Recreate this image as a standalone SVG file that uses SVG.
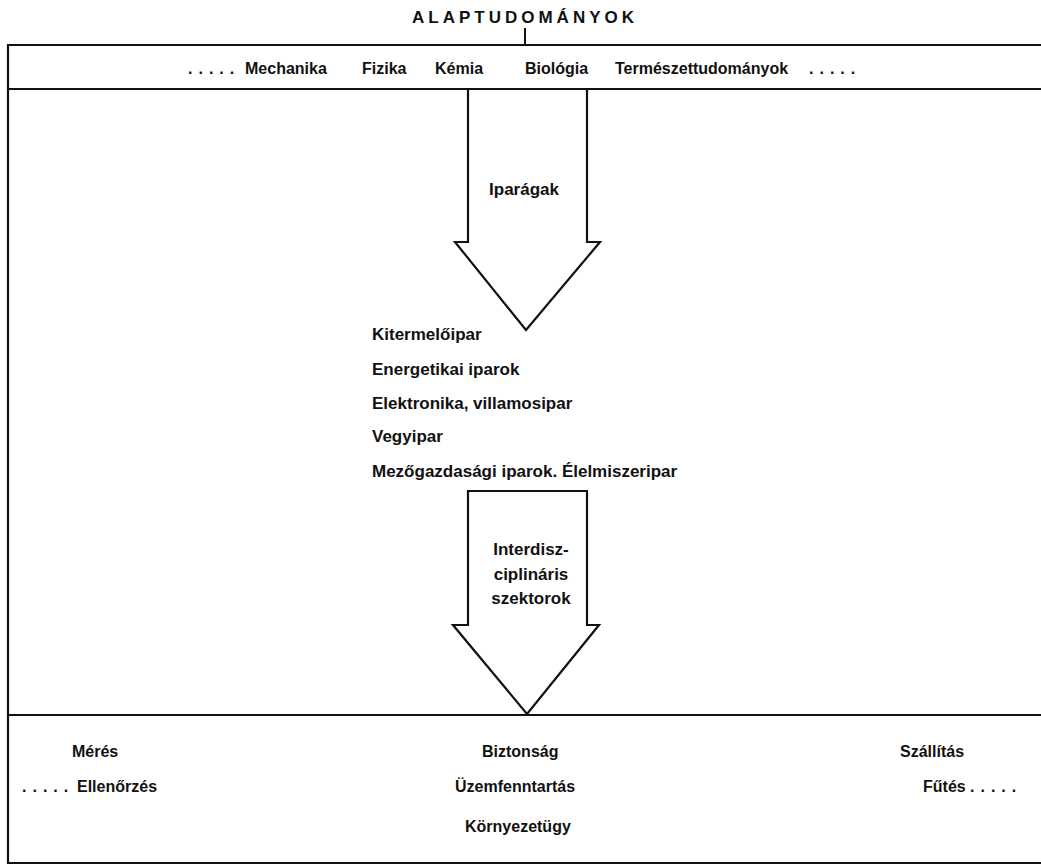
<svg xmlns="http://www.w3.org/2000/svg" width="1041" height="867" viewBox="0 0 1041 867">
<style>
.t{font-family:"Liberation Sans",Arial,sans-serif;font-weight:bold;font-size:16px;fill:#111}
.l{font-size:17px}
.dots{letter-spacing:6px}
.frame{fill:none;stroke:#111;stroke-width:2.2}
.arrow{fill:#fff;stroke:#111;stroke-width:2.2;stroke-linejoin:miter}
</style>
<rect width="1041" height="867" fill="#fff"/>
<g id="title">
<text class="t" x="412" y="23" style="font-size:17px;letter-spacing:4px">ALAPTUDOMÁNYOK</text>
</g>
<g id="frame">
<path class="frame" d="M1041 45 H8 V863 H1041"/>
<path class="frame" d="M8 89 H1041"/>
<path class="frame" d="M8 715 H1041"/>
</g>
<g id="basic-sciences">
<text class="t dots" x="188" y="74">.....</text>
<text class="t" x="245" y="74">Mechanika</text>
<text class="t" x="362" y="74">Fizika</text>
<text class="t" x="435" y="74">Kémia</text>
<text class="t" x="525" y="74">Biológia</text>
<text class="t" x="615" y="74">Természettudományok</text>
<text class="t dots" x="809" y="74">.....</text>
</g>
<g id="connectors">
<line x1="525" y1="28" x2="525" y2="45" stroke="#111" stroke-width="2"/>
<polygon class="arrow" points="468,89 468,242 455,242 526,330 600,242 587,242 587,89"/>
<polygon class="arrow" points="468,491 468,625 453,625 527,714 599,625 587,625 587,491"/>
</g>
<g id="iparagak">
<text class="t l" x="524" y="195" text-anchor="middle">Iparágak</text>
</g>
<g id="industries">
<text class="t l" x="372" y="340">Kitermelőipar</text>
<text class="t l" x="372" y="375">Energetikai iparok</text>
<text class="t l" x="372" y="409">Elektronika, villamosipar</text>
<text class="t l" x="372" y="442">Vegyipar</text>
<text class="t l" x="372" y="477">Mezőgazdasági iparok. Élelmiszeripar</text>
</g>
<g id="interdisciplinary">
<text class="t l" x="531" y="555" text-anchor="middle">Interdisz-</text>
<text class="t l" x="531" y="580" text-anchor="middle">ciplináris</text>
<text class="t l" x="531" y="604" text-anchor="middle">szektorok</text>
</g>
<g id="sectors">
<text class="t" x="72" y="757">Mérés</text>
<text class="t dots" x="22" y="792">.....</text>
<text class="t" x="77" y="792">Ellenőrzés</text>
<text class="t" x="482" y="757">Biztonság</text>
<text class="t" x="455" y="792">Üzemfenntartás</text>
<text class="t" x="465" y="832">Környezetügy</text>
<text class="t" x="900" y="757">Szállítás</text>
<text class="t" x="923" y="792">Fűtés</text>
<text class="t dots" x="970" y="792">.....</text>
</g>
</svg>
